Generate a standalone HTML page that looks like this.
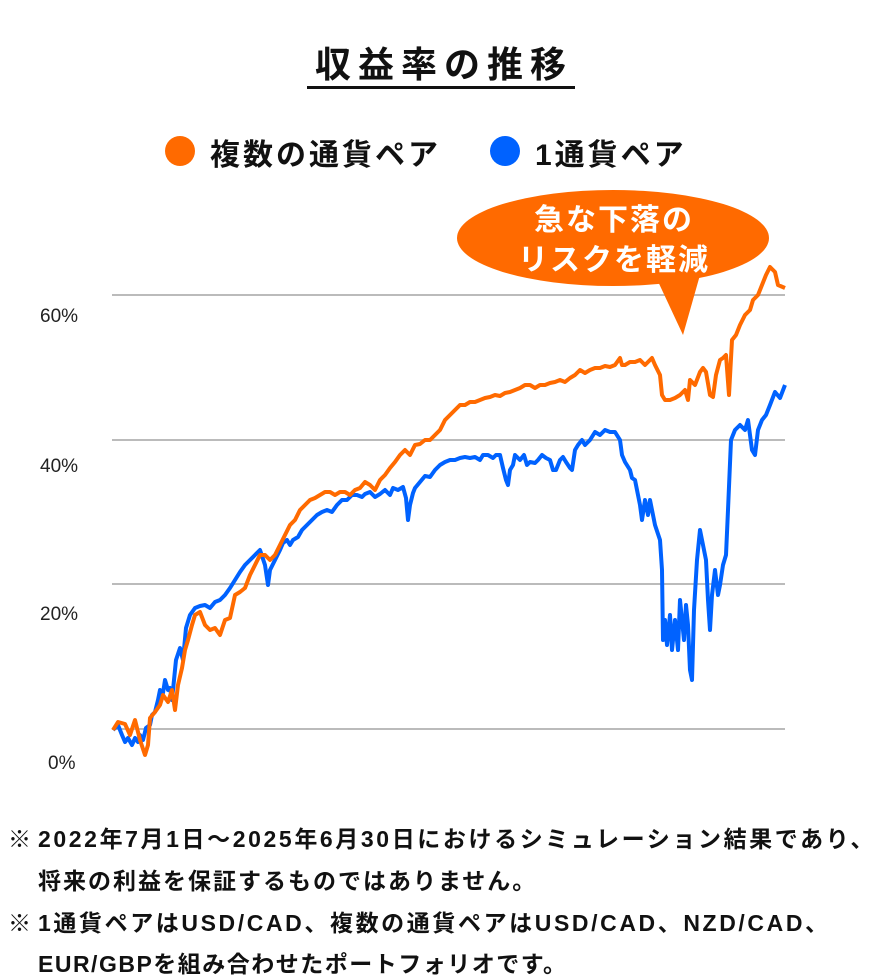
<!DOCTYPE html>
<html><head><meta charset="utf-8"><style>
body{margin:0;background:#fff;width:873px;height:977px;overflow:hidden;font-family:"Liberation Sans","Noto Sans CJK JP",sans-serif;color:#111}
.t{position:absolute;white-space:nowrap}
.n{position:absolute;white-space:nowrap;font-size:23px;font-weight:bold;letter-spacing:2px;left:38px}
.k{position:absolute;left:8px;font-size:23px;font-weight:bold}
</style></head><body>
<div class="t" style="left:4px;width:880px;text-align:center;top:36px;font-size:36px;font-weight:bold;letter-spacing:7px">収益率の推移</div>
<div style="position:absolute;left:307px;width:268px;top:86px;height:3px;background:#111"></div>
<div style="position:absolute;left:165px;top:136px;width:30px;height:30px;border-radius:50%;background:#ff6a00"></div>
<div class="t" style="left:210px;top:130px;font-size:30px;font-weight:bold;letter-spacing:3px">複数の通貨ペア</div>
<div style="position:absolute;left:490px;top:136px;width:30px;height:30px;border-radius:50%;background:#0062ff"></div>
<div class="t" style="left:535px;top:130px;font-size:30px;font-weight:bold;letter-spacing:3px">1通貨ペア</div>
<svg style="position:absolute;left:0;top:0" width="873" height="800">
<g stroke="#bbb" stroke-width="2"><line x1="112" x2="785" y1="295" y2="295"/><line x1="112" x2="785" y1="440" y2="440"/><line x1="112" x2="785" y1="584" y2="584"/><line x1="112" x2="785" y1="729" y2="729"/></g>
<g font-size="19" fill="#222" font-family="Liberation Sans,sans-serif"><text x="40" y="322">60%</text><text x="40" y="472">40%</text><text x="40" y="620">20%</text><text x="48" y="769">0%</text></g>
<polyline fill="none" stroke="#0062ff" stroke-width="4" stroke-linejoin="round" points="113,730 118,725 122,735 125,742 128,738 132,745 135,738 138,742 140,735 143,740 146,728 150,725 152,715 155,712 158,700 160,690 163,693 165,680 168,690 170,688 172,700 174,680 176,660 180,648 183,660 186,628 190,615 195,608 200,606 205,605 210,608 215,602 220,600 225,595 230,588 235,580 240,572 245,565 250,560 255,555 260,550 265,565 268,585 270,570 275,560 280,550 283,543 287,540 290,545 293,540 298,537 302,530 307,525 312,520 317,515 322,512 327,510 332,512 337,505 342,500 347,500 352,495 357,495 362,497 365,494 370,492 375,497 380,494 385,490 390,495 393,488 398,490 403,487 406,498 408,520 410,505 413,493 415,488 420,482 425,476 430,477 435,470 440,465 445,462 450,460 455,460 460,458 465,457 470,458 475,457 480,460 483,455 488,455 493,458 496,455 500,455 503,468 506,480 508,485 510,470 513,465 515,455 520,460 524,455 527,465 530,462 535,463 538,460 542,455 546,458 550,460 553,470 556,470 560,460 563,457 566,462 570,468 572,470 575,450 578,445 582,440 585,445 590,440 595,432 600,435 605,430 610,432 615,432 620,440 622,455 625,462 630,470 632,478 635,480 638,495 640,505 642,520 645,500 648,515 650,500 655,525 660,540 662,570 663,640 665,620 667,645 670,615 672,650 675,620 678,650 680,600 682,620 684,640 686,605 688,625 690,670 692,680 694,610 697,560 700,530 703,545 706,560 708,600 710,630 712,595 715,570 718,595 720,585 723,565 726,555 728,510 731,440 735,430 740,425 745,430 748,420 752,450 755,455 758,430 762,420 766,415 770,405 775,392 780,398 785,385"/>
<polyline fill="none" stroke="#ff6a00" stroke-width="4" stroke-linejoin="round" points="113,730 118,722 125,724 130,735 135,720 140,740 145,755 148,745 150,718 155,712 160,705 163,695 168,702 172,690 175,710 178,685 182,668 185,650 188,640 192,625 195,615 200,612 205,625 210,630 215,628 220,635 225,620 230,618 235,595 240,592 245,588 250,575 255,565 260,555 265,555 270,560 275,555 280,545 285,535 290,525 295,520 300,510 305,505 310,500 315,498 320,495 325,492 330,492 335,495 340,492 345,492 350,495 355,490 360,488 365,482 370,485 375,490 380,480 385,475 390,468 395,462 400,455 405,450 410,455 415,445 420,444 425,440 430,440 435,435 440,430 445,420 450,415 455,410 460,405 465,405 470,402 475,402 480,400 485,398 490,397 495,395 500,396 505,393 510,392 515,390 520,388 525,385 530,385 535,388 540,385 545,385 550,383 555,382 560,380 565,382 570,378 575,375 580,370 585,373 590,370 595,368 600,368 605,366 610,367 615,365 620,358 622,365 625,365 630,362 635,362 640,360 645,365 648,362 652,358 655,365 660,375 662,395 665,400 670,400 675,398 680,395 685,390 688,400 690,380 695,385 700,372 703,368 706,372 710,395 713,397 716,375 720,360 723,358 726,355 729,395 732,340 736,335 740,325 745,315 750,310 753,300 758,295 762,285 766,275 770,267 775,272 778,285 785,288"/>
<ellipse cx="613" cy="238" rx="156" ry="48" fill="#ff6a00"/>
<polygon points="655,275 700,275 683,335" fill="#ff6a00"/>
<g fill="#fff" font-size="30" font-weight="bold" text-anchor="middle" letter-spacing="2" font-family="Liberation Sans,Noto Sans CJK JP,sans-serif"><text x="614" y="230">急な下落の</text><text x="614" y="270">リスクを軽減</text></g>
</svg>
<div class="k" style="top:820px">※</div>
<div class="n" style="top:820px;letter-spacing:2.6px">2022年7月1日～2025年6月30日におけるシミュレーション結果であり、</div>
<div class="n" style="top:862px;letter-spacing:2px">将来の利益を保証するものではありません。</div>
<div class="k" style="top:904px">※</div>
<div class="n" style="top:904px;letter-spacing:2.6px">1通貨ペアはUSD/CAD、複数の通貨ペアはUSD/CAD、NZD/CAD、</div>
<div class="n" style="top:945px;letter-spacing:1.5px">EUR/GBPを組み合わせたポートフォリオです。</div>
</body></html>
